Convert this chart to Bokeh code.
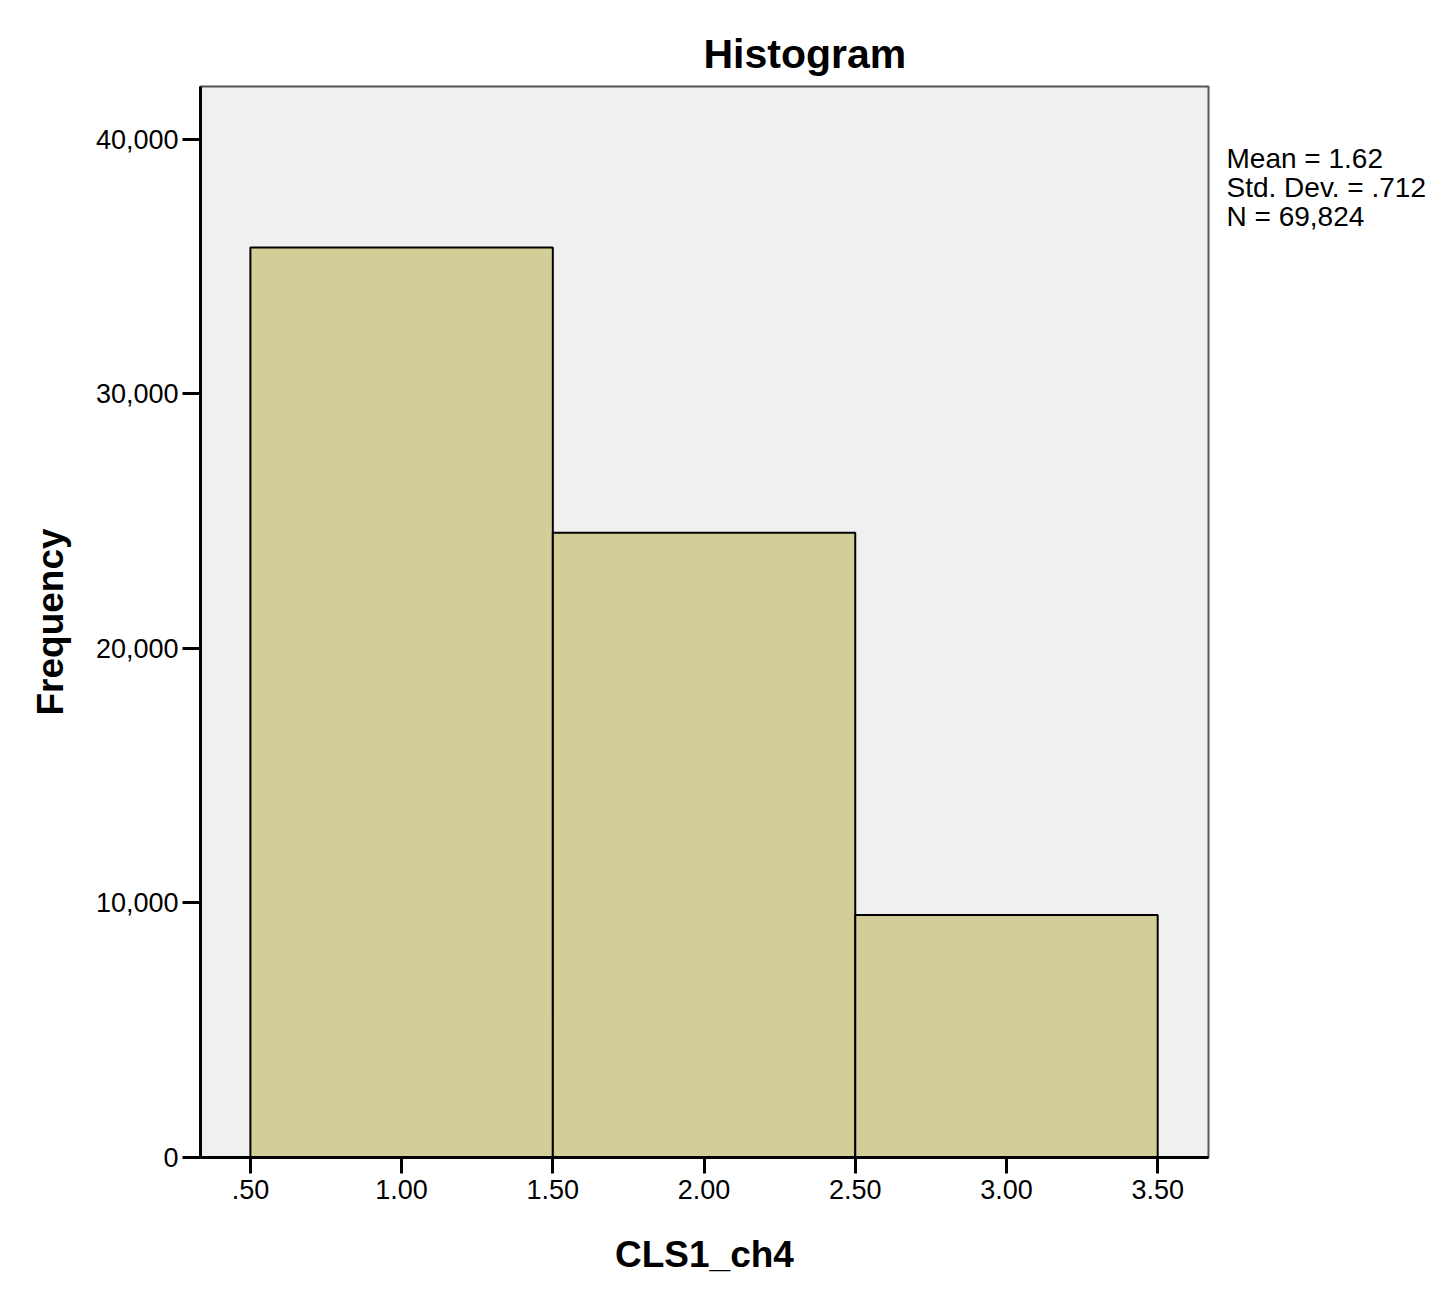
from bokeh.plotting import figure
from bokeh.layouts import row
from bokeh.models import Range1d, FixedTicker, NumeralTickFormatter
from bokeh.core.properties import value
from bokeh.embed import file_html
from bokeh.resources import INLINE

# Data
bin_left = [0.5, 1.5, 2.5]
bin_right = [1.5, 2.5, 3.5]
counts = [35750, 24550, 9524]
x_ticks = [0.5, 1.0, 1.5, 2.0, 2.5, 3.0, 3.5]
x_tick_labels = [".50", "1.00", "1.50", "2.00", "2.50", "3.00", "3.50"]
y_ticks = [0, 10000, 20000, 30000, 40000]
stats_lines = ["Mean = 1.62", "Std. Dev. = .712", "N = 69,824"]

FONT = "Liberation Sans"
H = 1304
TOP, BOTTOM = 86, 147

p = figure(width=1210, height=H, output_backend="svg", toolbar_location=None,
           x_range=Range1d(0.335, 3.668), y_range=Range1d(0, 42080),
           min_border_left=200, min_border_right=2, min_border_top=TOP, min_border_bottom=BOTTOM,
           title="Histogram")

p.background_fill_color = "#f0f0f0"
p.border_fill_color = "white"
p.outline_line_color = "#555555"
p.outline_line_width = 2
p.grid.visible = False

p.title.text_font = FONT
p.title.text_font_size = "41px"
p.title.text_font_style = "bold"
p.title.text_color = "black"
p.title.align = "left"
p.title.offset = 503
p.title.standoff = 19

p.quad(left=bin_left, right=bin_right, bottom=0, top=counts,
       fill_color="#d3ce97", line_color="black", line_width=2)

xa = p.xaxis[0]
xa.ticker = FixedTicker(ticks=x_ticks)
xa.major_label_overrides = {t: l for t, l in zip(x_ticks, x_tick_labels)}
xa.axis_label = "CLS1_ch4"

ya = p.yaxis[0]
ya.ticker = FixedTicker(ticks=y_ticks)
ya.formatter = NumeralTickFormatter(format="0,0")
ya.axis_label = "Frequency"

for ax in (xa, ya):
    ax.axis_line_color = "black"
    ax.axis_line_width = 3
    ax.major_tick_line_color = "black"
    ax.major_tick_line_width = 3
    ax.major_tick_in = 0
    ax.minor_tick_line_color = None
    ax.major_label_text_font = FONT
    ax.major_label_text_font_size = "27px"
    ax.major_label_text_color = "black"
    ax.axis_label_text_font = FONT
    ax.axis_label_text_font_size = "37px"
    ax.axis_label_text_font_style = "bold"
    ax.axis_label_text_color = "black"

xa.major_tick_out = 16
xa.major_label_standoff = 6
xa.axis_label_standoff = 32
ya.major_tick_out = 18
ya.major_label_standoff = 4
ya.axis_label_standoff = 22

# Side panel with the summary statistics; its frame is aligned with the main
# frame by the row layout, so use the frame's pixel span as the y range (downward).
s = figure(width=238, height=H, output_backend="svg", toolbar_location=None,
           x_range=Range1d(0, 238), y_range=Range1d(H - BOTTOM, TOP),
           min_border=0, outline_line_color=None)
s.axis.visible = False
s.grid.visible = False
s.background_fill_color = "white"
s.border_fill_color = "white"
s.text(x=[16] * len(stats_lines), y=[142 + 29 * i for i in range(len(stats_lines))],
       text=stats_lines, text_font=value(FONT), text_font_size="28px",
       text_color="black", text_baseline="top", text_align="left")

open("out.html", "w").write(file_html(row(p, s), INLINE))
